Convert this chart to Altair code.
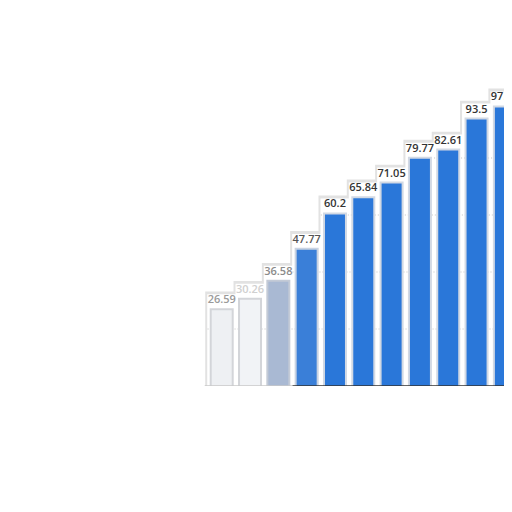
import altair as alt
import pandas as pd

# data
values = [26.59, 30.26, 36.58, 47.77, 60.2, 65.84, 71.05, 79.77, 82.61, 93.5, 97.76]
labels = ["26.59", "30.26", "36.58", "47.77", "60.2", "65.84", "71.05", "79.77", "82.61", "93.5", "97.76"]
grid_values = [20, 40, 60, 80]

n = len(values)
df = pd.DataFrame({"i": list(range(n)), "v": values, "lab": labels})
# each dotted grid line starts at the first bar that rises above it
grid_start = [next(k for k, v in enumerate(values) if v > g) - 0.5 for g in grid_values]
grid_df = pd.DataFrame({"g": grid_values, "x0": grid_start, "x1": [n - 0.4] * len(grid_values)})
axis_df = pd.DataFrame({"x0": [-0.6, 2.5], "x1": [2.5, n - 0.4], "y0": [0, 0], "part": ["light", "dark"]})

W, H = 496, 378
step = 28.9
first_center = 213.0  # plot-area pixels
xs = alt.Scale(domain=[-first_center / step, (W - first_center) / step], nice=False, zero=False)
ys = alt.Scale(domain=[0, H / 2.85], nice=False, zero=True)

tone_expr = "datum.i < 1 ? 'pale' : datum.i < 2 ? 'ghost' : datum.i < 3 ? 'mid' : datum.i < 4 ? 'soft' : 'full'"
tones = ["pale", "ghost", "mid", "soft", "full"]

base = alt.Chart(df).transform_calculate(
    tone=tone_expr,
    top_a="datum.v + 6.6",
    top_b="datum.v + 5.6",
    top_c="datum.v + 0.7",
)

X = alt.X("i:Q", scale=xs, axis=None)

halo_a = base.mark_bar(size=33, color="#e2e2e2", clip=True).encode(
    x=X, y=alt.Y("top_a:Q", scale=ys, axis=None)
)
halo_b = base.mark_bar(size=29, color="#ffffff", clip=True).encode(
    x=X, y=alt.Y("top_b:Q", scale=ys, axis=None)
)

grid = alt.Chart(grid_df).mark_rule(color="#c4c4c4", strokeDash=[1, 2], strokeWidth=1, clip=True).encode(
    x=alt.X("x0:Q", scale=xs, axis=None),
    x2="x1:Q",
    y=alt.Y("g:Q", scale=ys, axis=None),
)

shadow = base.mark_bar(size=24, clip=True).encode(
    x=X,
    y=alt.Y("top_c:Q", scale=ys, axis=None),
    color=alt.Color("tone:N", scale=alt.Scale(domain=tones, range=["#d3d5d9", "#d3d5d9", "#c3cad6", "#c9d3e2", "#d2d9e4"]), legend=None),
)

bars = base.mark_bar(size=20, clip=True).encode(
    x=X,
    y=alt.Y("v:Q", scale=ys, axis=None),
    color=alt.Color("tone:N", scale=alt.Scale(domain=tones, range=["#eef0f3", "#f1f3f6", "#a9b9d3", "#3a7fd8", "#2a77d9"]), legend=None),
)

text = base.mark_text(
    baseline="bottom", dy=-5, fontSize=11, fontWeight=600, font="Open Sans", clip=True
).encode(
    x=X,
    y=alt.Y("v:Q", scale=ys, axis=None),
    text="lab:N",
    color=alt.Color("tone:N", scale=alt.Scale(domain=tones, range=["#9a9a9a", "#d0d0d0", "#8a8a8a", "#555555", "#333333"]), legend=None),
)

axis_shadow = alt.Chart(axis_df).mark_rule(color="#e6e6e6", strokeWidth=5, yOffset=4, clip=True).encode(
    x=alt.X("x0:Q", scale=xs, axis=None), x2="x1:Q", y=alt.Y("y0:Q", scale=ys, axis=None)
)
axis_line = alt.Chart(axis_df).mark_rule(strokeWidth=1.5, clip=True).encode(
    x=alt.X("x0:Q", scale=xs, axis=None), x2="x1:Q", y=alt.Y("y0:Q", scale=ys, axis=None),
    color=alt.Color("part:N", scale=alt.Scale(domain=["light", "dark"], range=["#c8c8c8", "#333333"]), legend=None),
)

chart = alt.layer(
    halo_a, halo_b, grid, axis_shadow, shadow, bars, axis_line, text
).resolve_scale(color="independent").properties(
    width=W, height=H, padding=0, autosize=alt.AutoSizeParams(type="none")
).configure_view(strokeWidth=0)

chart.save("out.html", embed_options={"renderer": "svg", "actions": False})
